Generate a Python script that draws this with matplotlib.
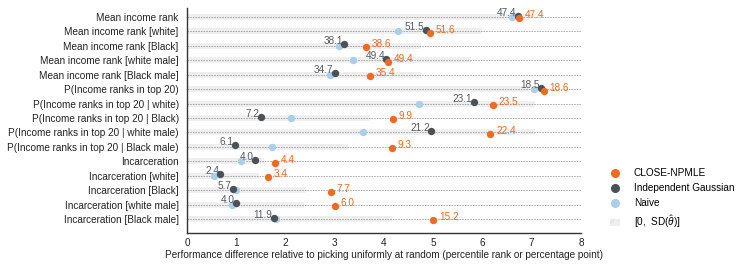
import matplotlib
matplotlib.use("Agg")
import matplotlib.pyplot as plt
from matplotlib.lines import Line2D
from matplotlib.patches import Patch
import numpy as np

plt.rcParams['font.family'] = ['Liberation Sans', 'DejaVu Sans']
plt.rcParams['mathtext.fontset'] = 'custom'
plt.rcParams['mathtext.rm'] = 'Liberation Sans'
plt.rcParams['mathtext.it'] = 'Liberation Sans:italic'
plt.rcParams['hatch.color'] = '#d0d0d0'

categories = [
    "Mean income rank",
    "Mean income rank [white]",
    "Mean income rank [Black]",
    "Mean income rank [white male]",
    "Mean income rank [Black male]",
    "P(Income ranks in top 20)",
    "P(Income ranks in top 20 | white)",
    "P(Income ranks in top 20 | Black)",
    "P(Income ranks in top 20 | white male)",
    "P(Income ranks in top 20 | Black male)",
    "Incarceration",
    "Incarceration [white]",
    "Incarceration [Black]",
    "Incarceration [white male]",
    "Incarceration [Black male]",
]
npmle = [6.74, 4.93, 3.63, 4.08, 3.72, 7.25, 6.22, 4.19, 6.16, 4.16, 1.79, 1.65, 2.92, 3.01, 5.00]
indep = [6.72, 4.85, 3.19, 4.05, 3.00, 7.19, 5.82, 1.50, 4.96, 0.97, 1.38, 0.68, 0.93, 1.00, 1.76]
naive = [6.59, 4.29, 3.09, 3.37, 2.90, 7.04, 4.72, 2.11, 3.57, 1.72, 1.09, 0.55, 0.99, 0.91, 1.80]
sd_theta = [6.94, 5.98, 4.76, 5.76, 4.76, 6.95, 7.07, 3.72, 7.07, 3.27, 1.57, 1.47, 2.42, 2.38, 4.16]
indep_labels = ["47.4", "51.5", "38.1", "49.4", "34.7", "18.5", "23.1", "7.2", "21.2",
                "6.1", "4.0", "2.4", "5.7", "4.0", "11.9"]
npmle_labels = ["47.4", "51.6", "38.6", "49.4", "35.4", "18.6", "23.5", "9.9", "22.4",
                "9.3", "4.4", "3.4", "7.7", "6.0", "15.2"]

C_NPMLE = '#f06a22'
C_IG = '#4b5257'
C_NAIVE = '#a9cfea'
FS = 7.2

fig = plt.figure(figsize=(7.47, 2.69), dpi=100)
ax = fig.add_axes([0.2503, 0.134, 0.5275, 0.836])

y = np.arange(len(categories))
d = 0.1

ax.barh(y, sd_theta, height=0.42, color='#efefef', linewidth=0, zorder=0)
for yi in y:
    ax.axhline(yi, color='#a0a0a0', linestyle=(0, (2.0, 1.2)), linewidth=0.6, zorder=1)

ax.scatter(naive, y, s=28, color=C_NAIVE, zorder=3, linewidths=0)
ax.scatter(indep, y - d, s=28, color=C_IG, zorder=4, linewidths=0)
ax.scatter(npmle, y + d, s=28, color=C_NPMLE, zorder=5, linewidths=0)

for xi, yi, lab in zip(indep, y - d, indep_labels):
    ax.annotate(lab, (xi, yi), xytext=(-1, 0), textcoords='offset points',
                ha='right', va='baseline', fontsize=FS, color='#555a5e', zorder=6)
for xi, yi, lab in zip(npmle, y + d, npmle_labels):
    ax.annotate(lab, (xi, yi), xytext=(4, 0), textcoords='offset points',
                ha='left', va='baseline', fontsize=FS, color=C_NPMLE, zorder=6)

ax.set_yticks(y)
ax.set_yticklabels(categories, fontsize=FS, color='#222222')
ax.set_ylim(14.97, -0.62)
ax.set_xlim(0, 8)
ax.set_xticks(range(0, 9))
ax.tick_params(axis='x', labelsize=FS, length=0, pad=3.5, colors='#222222')
ax.tick_params(axis='y', length=0, pad=6)
ax.set_xlabel("Performance difference relative to picking uniformly at random (percentile rank or percentage point)",
              fontsize=FS, color='#222222', labelpad=1.5)
for s in ['top', 'right']:
    ax.spines[s].set_visible(False)
for s in ['left', 'bottom']:
    ax.spines[s].set_color('#333333')
    ax.spines[s].set_linewidth(1.0)

handles = [
    Line2D([], [], marker='o', linestyle='', color=C_NPMLE, markersize=5.5),
    Line2D([], [], marker='o', linestyle='', color=C_IG, markersize=5.5),
    Line2D([], [], marker='o', linestyle='', color=C_NAIVE, markersize=5.5),
    Patch(facecolor='#efefef', edgecolor='#e0e0e0', hatch='xx', linewidth=0),
]
labels = ["CLOSE-NPMLE", "Independent Gaussian", "Naive", r"[0,  SD($\hat{\theta}$)]"]
leg = ax.legend(handles, labels, loc='center left', bbox_to_anchor=(1.063, 0.15),
                frameon=False, fontsize=FS, handlelength=1.0, handleheight=0.8,
                handletextpad=1.4, labelspacing=0.5, borderaxespad=0)

fig.savefig("out.png", dpi=100)
